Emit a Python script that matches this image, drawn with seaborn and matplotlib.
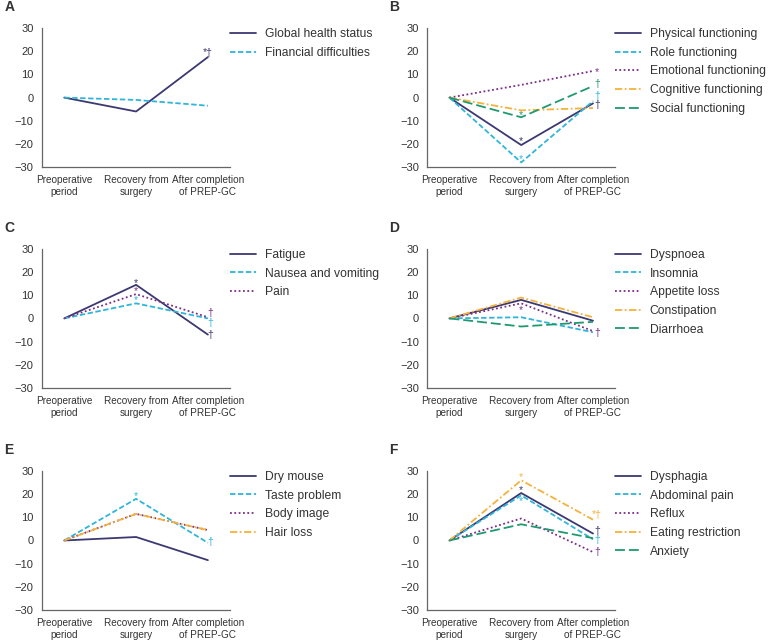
import matplotlib
matplotlib.use("Agg")
import matplotlib.pyplot as plt
import numpy as np
import pandas as pd
import seaborn as sns


PERIODS = ["Preoperative\nperiod", "Recovery from\nsurgery", "After completion\nof PREP-GC"]

# panel A
A_NAMES = ["Global health status", "Financial difficulties"]
A_VALUES = [[0, -6, 17.5], [0, -1, -3.5]]

# panel B
B_NAMES = ["Physical functioning", "Role functioning", "Emotional functioning",
           "Cognitive functioning", "Social functioning"]
B_VALUES = [[0, -20.5, -2.5], [0, -28, -1.5], [0, 5.5, 11.5], [0, -5.5, -4.5], [0, -8.5, 5]]

# panel C
C_NAMES = ["Fatigue", "Nausea and vomiting", "Pain"]
C_VALUES = [[0, 14.5, -7], [0, 6.5, 0], [0, 10.5, 0.5]]

# panel D
D_NAMES = ["Dyspnoea", "Insomnia", "Appetite loss", "Constipation", "Diarrhoea"]
D_VALUES = [[0, 8, -1], [0, 0.5, -6], [0, 6.5, -5.5], [0, 9, 0.5], [0, -3.5, -1.5]]

# panel E
E_NAMES = ["Dry mouse", "Taste problem", "Body image", "Hair loss"]
E_VALUES = [[0, 1.5, -8.5], [0, 18, -1], [0, 11.5, 4.5], [0, 11.5, 4.5]]

# panel F
F_NAMES = ["Dysphagia", "Abdominal pain", "Reflux", "Eating restriction", "Anxiety"]
F_VALUES = [[0, 20.5, 3], [0, 19.5, 0.5], [0, 9.5, -5], [0, 26, 9], [0, 7, 1]]

# significance marks: (series index, period index, symbol, dx pt, dy pt)
A_MARKS = [(0, 2, "*†", 0, 3.3)]
B_MARKS = [(0, 1, "*", 0, 3.0), (1, 1, "*", 0, 2.5), (4, 1, "*", 0, 1.8),
           (2, 2, "*", 3, -0.6), (4, 2, "†", 3, 1.4), (1, 2, "†", 3, 3.5), (0, 2, "†", 3, -1)]
C_MARKS = [(0, 1, "*", 0, 1.5), (2, 1, "*", 0, 2.0), (1, 1, "*", 0, 2.0),
           (2, 2, "†", 2, 3.0), (1, 2, "†", 2, -3.2), (0, 2, "†", 2, -0.5)]
D_MARKS = [(2, 1, "*", 0, -4.5), (2, 2, "†", 3, -1.3)]
E_MARKS = [(1, 1, "*", 0, 2.0), (1, 2, "†", 2, 0.7)]
F_MARKS = [(3, 1, "*", 0, 2.5), (0, 1, "*", 0, 2.4), (1, 1, "*", 0, -3.8),
           (3, 2, "*†", 3, 3.3), (0, 2, "†", 3, 1.5), (1, 2, "†", 3, -0.5), (2, 2, "†", 3, 0)]

COLORS = ["#3b3872", "#2fb5d9", "#7a2e86", "#f4b23c", "#1f9a6f"]
DASHES = ["", (3, 1.4), (1, 1.4), (4, 1.4, 1, 1.4), (5.5, 2.2)]

TEXT_COLOR = "#333333"
SPINE_COLOR = "#666666"


def draw_panel(ax, letter, names, values, marks):
    rows = []
    for name, vals in zip(names, values):
        for i, v in enumerate(vals):
            rows.append({"period": i, "score": v, "item": name})
    df = pd.DataFrame(rows)

    palette = {n: COLORS[i] for i, n in enumerate(names)}
    dashes = {n: DASHES[i] for i, n in enumerate(names)}
    sns.lineplot(data=df, x="period", y="score", hue="item", style="item",
                 palette=palette, dashes=dashes, linewidth=1.3, ax=ax,
                 hue_order=names, style_order=names)

    for s, p, sym, dx, dy in marks:
        ax.annotate(sym, (p, values[s][p]), xytext=(dx, dy), textcoords="offset points",
                    ha="center", va="center", fontsize=7.5, color=COLORS[s])

    ax.set_xlim(-0.31, 2.31)
    ax.set_ylim(-30, 30)
    ax.set_yticks(np.arange(-30, 31, 10))
    ax.set_yticklabels([str(t).replace("-", "\u2212") for t in range(-30, 31, 10)])
    ax.set_xticks(range(len(PERIODS)))
    ax.set_xticklabels(PERIODS, fontsize=7.2, color=TEXT_COLOR, linespacing=1.2)
    ax.tick_params(axis="y", labelsize=8, colors=SPINE_COLOR, labelcolor=TEXT_COLOR,
                   length=4, pad=2)
    ax.tick_params(axis="x", colors=SPINE_COLOR, labelcolor=TEXT_COLOR, length=4, pad=2)
    ax.set_xlabel("")
    ax.set_ylabel("")
    for side in ["top", "right"]:
        ax.spines[side].set_visible(False)
    for side in ["left", "bottom"]:
        ax.spines[side].set_color(SPINE_COLOR)
        ax.spines[side].set_linewidth(0.9)

    leg = ax.legend(loc="upper left", bbox_to_anchor=(1.0, 1.0), frameon=False,
                    fontsize=8.7, handlelength=2.1, handletextpad=0.75, labelspacing=0.55,
                    borderaxespad=0, borderpad=0)
    for t in leg.get_texts():
        t.set_color(TEXT_COLOR)

    ax.text(-0.2, 1.15, letter, transform=ax.transAxes, fontsize=10,
            fontweight="bold", color=TEXT_COLOR, va="center", ha="left")


def main():
    sns.set_style("white")
    plt.rcParams["font.family"] = ["Liberation Sans", "DejaVu Sans"]

    fig = plt.figure(figsize=(7.71, 6.4), dpi=100)
    w, h = 0.244, 0.217
    lefts = [0.0545, 0.554]
    bottoms = [0.739, 0.394, 0.047]

    panels = [
        ("A", A_NAMES, A_VALUES, A_MARKS),
        ("B", B_NAMES, B_VALUES, B_MARKS),
        ("C", C_NAMES, C_VALUES, C_MARKS),
        ("D", D_NAMES, D_VALUES, D_MARKS),
        ("E", E_NAMES, E_VALUES, E_MARKS),
        ("F", F_NAMES, F_VALUES, F_MARKS),
    ]
    for k, (letter, names, values, marks) in enumerate(panels):
        ax = fig.add_axes([lefts[k % 2], bottoms[k // 2], w, h])
        draw_panel(ax, letter, names, values, marks)

    fig.savefig("out.png", dpi=100)
    plt.close(fig)


if __name__ == "__main__":
    main()
